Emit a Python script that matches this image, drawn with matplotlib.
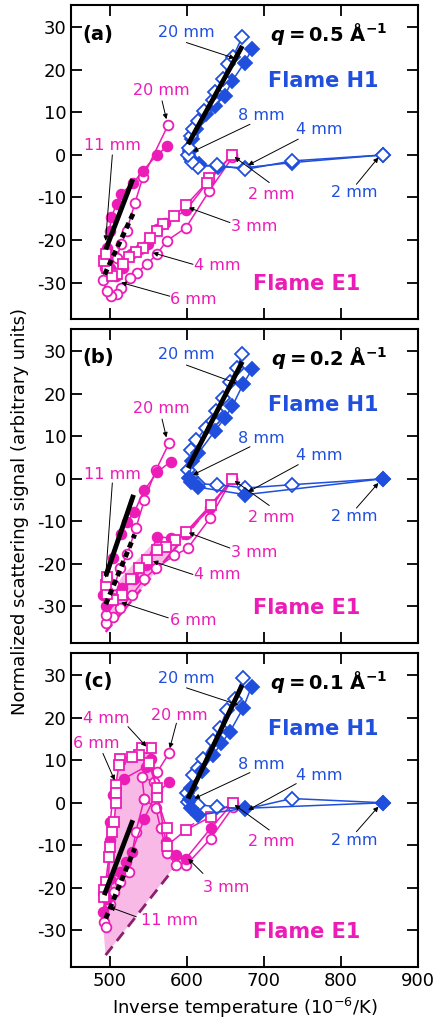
import numpy as np
import matplotlib
matplotlib.use("Agg")
import matplotlib.pyplot as plt

plt.rcParams['font.family'] = ['DejaVu Sans']
plt.rcParams['axes.unicode_minus'] = False
plt.rcParams['mathtext.fontset'] = 'custom'
plt.rcParams['mathtext.rm'] = 'DejaVu Sans'
plt.rcParams['mathtext.bf'] = 'DejaVu Sans:bold'
plt.rcParams['mathtext.it'] = 'DejaVu Sans:bold:italic'

BLUE = '#1f4fdc'
MAG = '#ec1cb6'
PINK = '#f9b9e6'
PURPLE = '#8c1f6e'

## ---- panel (a), q = 0.5 ----
a_h1_open_x = [855, 737, 676, 639, 615, 607, 602, 603, 606, 608, 615, 622, 634, 637, 647, 654, 660, 672]
a_h1_open_y = [0, -1.4, -3.4, -2.4, -2.8, -1.6, 0, 1.7, 4.5, 6, 8, 10.4, 13, 14.7, 17.8, 21.3, 23, 27.8]
a_h1_fill_x = [855, 737, 676, 640, 616, 606, 604, 607, 612, 625, 636, 649, 659, 675, 685]
a_h1_fill_y = [0, -1.8, -3.0, -2.8, -2.2, -1.0, 1.0, 3.7, 6.0, 9.5, 11.5, 13.9, 17.4, 21.7, 25]
a_e1_sq_x = [659, 629, 626, 599, 583, 569, 561, 552, 543, 534, 525, 517, 509, 503, 496, 493, 495]
a_e1_sq_y = [0, -5.5, -6.5, -11.8, -14.4, -16.3, -17.9, -19.5, -21.8, -22.7, -24.0, -25.7, -28, -28.5, -26.5, -25, -23.4]
a_e1_fc_x = [659, 629, 599, 572, 561, 550, 540, 528, 517, 508, 502, 497, 496, 500, 502, 509, 515, 530, 543, 561, 575]
a_e1_fc_y = [0, -6, -13, -16, -17.5, -20.9, -22, -23.2, -26.5, -28.5, -27, -25, -21.8, -17.9, -14.7, -11.6, -9.1, -6.7, -3.8, 0, 2]
a_e1_oc_x = [659, 629, 599, 574, 561, 548, 535, 526, 515, 509, 502, 496, 491, 494, 500, 509, 515, 522, 533, 543, 576]
a_e1_oc_y = [-0.6, -8.5, -17.1, -20.2, -23.4, -25.7, -27.7, -28.9, -31.2, -32.8, -33.2, -32, -29.3, -26.5, -26.5, -24.2, -21, -17.9, -11.2, -5.3, 7.1]

## ---- panel (b), q = 0.2 ----
b_h1_open_x = [855, 737, 676, 639, 615, 605, 601, 606, 612, 625, 634, 638, 647, 656, 665, 672]
b_h1_open_y = [0, -1.4, -2.2, -1.4, -1.2, 0.5, 2.1, 6.8, 9.1, 11.9, 13.5, 15.8, 18.9, 22.8, 26, 29.2]
b_h1_fill_x = [855, 676, 615, 606, 603, 607, 615, 636, 649, 659, 673, 685]
b_h1_fill_y = [0, -3.75, -2.0, -0.8, 0.2, 4.1, 6.0, 11.1, 14.2, 17, 22.2, 25.8]
b_e1_sq_x = [659, 631, 599, 585, 573, 562, 549, 538, 528, 516, 505, 497, 495, 496]
b_e1_sq_y = [0, -6.2, -12.5, -14.5, -16, -16.8, -19.1, -21.1, -23.5, -27.4, -28.5, -27, -25, -23]
b_e1_fc_x = [659, 630, 599, 580, 562, 547, 532, 516, 503, 495, 491, 497, 504, 515, 523, 532, 545, 562, 579]
b_e1_fc_y = [0, -7, -12.9, -14, -13.6, -20.3, -23.5, -25.8, -28, -30, -27.4, -23.5, -18.7, -13, -10.1, -7.8, -2.7, 1.6, 4]
b_e1_oc_x = [659, 630, 601, 584, 560, 545, 529, 514, 504, 495, 495, 499, 506, 514, 523, 534, 545, 560, 577]
b_e1_oc_y = [0, -9.3, -16.4, -18, -21.1, -23.5, -27.4, -30.5, -32.5, -34, -32, -28.9, -25, -21.1, -17.6, -11.7, -5, 2, 8.3]

## ---- panel (c), q = 0.1 ----
c_h1_open_x = [855, 736, 676, 639, 615, 602, 600, 608, 615, 621, 634, 643, 652, 662, 673]
c_h1_open_y = [0, 1.0, -1.5, -0.9, -0.5, 0.2, 2.2, 6.5, 8.1, 10.4, 14.4, 17.5, 21.8, 24.5, 29.3]
c_h1_fill_x = [855, 676, 615, 606, 604, 606, 620, 634, 645, 656, 673, 684]
c_h1_fill_y = [0, -1.3, -2.9, -1.3, 1.0, 3.4, 7.5, 11.2, 14, 16.7, 22.2, 27.3]
c_e1_sq_x = [660, 631, 599, 574, 574, 561, 561, 551, 553, 542, 538, 529, 514, 512, 508, 508, 508, 506, 503, 501, 499, 495, 493, 493]
c_e1_sq_y = [0, -3.3, -6.4, -10.1, -6, 1.4, 3.4, 9.3, 12.8, 12.8, 11.2, 10.8, 10.4, 8.9, 4.2, 2.2, 0, -4.5, -6.8, -10.4, -12.7, -18.6, -20.5, -22.1]
c_e1_fc_x = [660, 631, 599, 586, 573, 561, 553, 547, 519, 504, 501, 501, 497, 491, 501, 514, 521, 529, 545, 560, 577]
c_e1_fc_y = [0, -6, -13.1, -12.3, -9.2, 3, 10.4, 8.5, 5.7, 1.8, -4.5, -8.8, -22.5, -25.6, -17.8, -16.2, -13.9, -11.5, -3.7, 2, 4.9]
c_e1_oc_x = [660, 631, 599, 586, 575, 566, 560, 545, 542, 557, 562, 577]
c_e1_oc_y = [-1, -8.4, -14.7, -14.7, -11.9, -6, -1.3, 1, 6.1, 4.9, 7.3, 11.6]
c_e1_oc2_x = [545, 534, 525, 514, 506, 501, 493, 495]
c_e1_oc2_y = [1, -6.8, -16.2, -18.6, -20.9, -23.7, -28, -29.2]

# linear fits (solid / dotted black for E1, blue for H1)
fit_solid = {'a': ([495, 530], [-22.2, -5.7]), 'b': ([495, 531], [-22.9, -3.8]), 'c': ([493, 530], [-21.7, -4.1])}
fit_dot = {'a': ([493.5, 532], [-28.1, -13.2]), 'b': ([495, 532.5], [-29.5, -13.1]), 'c': ([495, 532.5], [-27.2, -10.7])}
fit_h1 = {'a': ([601.7, 672], [2.5, 25.6]), 'b': ([601.7, 672], [2.5, 27.5]), 'c': ([601.7, 672], [1.0, 27.7])}

# shaded region, lower dashed bound
b_shade_x = [495, 660, 659, 631, 599, 573, 562, 547, 531, 516, 503, 495]
b_shade_y = [-36, 0, 0, -6, -12.5, -15, -14, -17, -20, -23, -27, -30]
c_shade_x = [494.8, 491, 492, 499, 503.5, 508, 508, 512, 529, 542, 553, 561, 566, 572, 578, 582]
c_shade_y = [-35.8, -28, -20, -12.7, -6.8, 0, 4.2, 8.9, 10.8, 12.8, 12.8, 5, 0, -7, -12, -15.5]

# labels: text, text position, arrow start, arrow tip, colour
labels_a = [
    ("20 mm", (599.6, 28.8), (599.6, 26.4), (662, 22.7), BLUE),
    ("8 mm", (697, 9.2), (682, 7.2), (608, 0.8), BLUE),
    ("4 mm", (772, 6), (744.6, 3.7), (679.6, -2.4), BLUE),
    ("2 mm", (817, -8.9), (820, -6.9), (848.5, -0.6), BLUE),
    ("2 mm", (709, -9.3), (707, -6.5), (662, -0.5), MAG),
    ("3 mm", (687, -16.9), (656, -15.9), (602.6, -12.4), MAG),
    ("4 mm", (639, -26.1), (608, -25.7), (556, -23), MAG),
    ("6 mm", (609, -34), (578, -33.2), (515, -30), MAG),
    ("11 mm", (504, 2.1), (503.5, 0), (494.8, -20.2), MAG),
    ("20 mm", (567, 15.2), (568, 12.7), (573.6, 8.4), MAG),
]
labels_b = [
    ("20 mm", (599.6, 29.1), (599.6, 26.7), (664.5, 22.4), BLUE),
    ("8 mm", (697, 9.4), (682, 7.5), (608, 0.9), BLUE),
    ("4 mm", (772, 5.5), (744.6, 3.3), (679.6, -3.1), BLUE),
    ("2 mm", (817, -8.8), (820, -6.9), (848.5, -1), BLUE),
    ("2 mm", (709, -9.2), (707, -6.3), (662, -0.5), MAG),
    ("3 mm", (687, -17.4), (656, -16.3), (602.6, -12.7), MAG),
    ("4 mm", (639, -22.5), (608, -22.5), (556, -19.4), MAG),
    ("6 mm", (609, -33.4), (576, -32.7), (515, -29.1), MAG),
    ("11 mm", (504, 0.9), (503.5, -1), (494.8, -23.3), MAG),
    ("20 mm", (567, 16.4), (568, 14), (573.6, 9.7), MAG),
]
labels_c = [
    ("20 mm", (599.6, 29.3), (599.6, 27), (666.7, 23), BLUE),
    ("8 mm", (697, 8.9), (682, 7.1), (610, 1), BLUE),
    ("4 mm", (772, 6.5), (742, 4.5), (679.6, -1.7), BLUE),
    ("2 mm", (817, -8.8), (820, -6.8), (848.5, -0.9), BLUE),
    ("2 mm", (709, -9.2), (707, -6.4), (662, -0.5), MAG),
    ("3 mm", (651.5, -20), (621, -16.6), (601.7, -13.1), MAG),
    ("11 mm", (578, -27.6), (534.6, -26.8), (500, -24.5), MAG),
    ("4 mm", (495.7, 19.8), (523.8, 17.9), (547.6, 13.2), MAG),
    ("6 mm", (482.7, 14), (491.3, 11.6), (506.5, 5.3), MAG),
    ("20 mm", (591, 20.6), (586.6, 18.7), (578, 12.8), MAG),
]

qvals = ['0.5', '0.2', '0.1']
tags = ['(a)', '(b)', '(c)']

fig = plt.figure(figsize=(4.36, 10.23), dpi=100)
bottoms = [0.688, 0.3715, 0.0547]
axs = [fig.add_axes([0.163, b, 0.796, 0.307]) for b in bottoms]

panels = [
    (a_h1_open_x, a_h1_open_y, a_h1_fill_x, a_h1_fill_y, a_e1_sq_x, a_e1_sq_y,
     a_e1_fc_x, a_e1_fc_y, a_e1_oc_x, a_e1_oc_y, labels_a, 'a'),
    (b_h1_open_x, b_h1_open_y, b_h1_fill_x, b_h1_fill_y, b_e1_sq_x, b_e1_sq_y,
     b_e1_fc_x, b_e1_fc_y, b_e1_oc_x, b_e1_oc_y, labels_b, 'b'),
    (c_h1_open_x, c_h1_open_y, c_h1_fill_x, c_h1_fill_y, c_e1_sq_x, c_e1_sq_y,
     c_e1_fc_x, c_e1_fc_y, c_e1_oc_x, c_e1_oc_y, labels_c, 'c'),
]

for i, (ax, p) in enumerate(zip(axs, panels)):
    hox, hoy, hfx, hfy, sqx, sqy, fcx, fcy, ocx, ocy, labs, key = p

    if key == 'b':
        ax.fill(b_shade_x, b_shade_y, color=PINK, lw=0, zorder=1)
        ax.plot([495, 660], [-36, 0], color=MAG, lw=1.8, ls=(0, (4, 2)), zorder=1.5)
    if key == 'c':
        ax.fill(c_shade_x, c_shade_y, color=PINK, lw=0, zorder=1)
        ax.plot([494.8, 583], [-35.8, -15.5], color=PURPLE, lw=2, ls=(0, (4, 2.5)), zorder=1.5)
        ax.plot([598, 614], [-6.4, -4.2], color=MAG, lw=1, ls=(0, (3, 2)), zorder=1.5)

    mk = dict(lw=1.1, mew=1.3, zorder=3)
    # E1
    ax.plot(ocx, ocy, '-o', color=MAG, mfc='white', ms=7, **mk)
    if key == 'c':
        ax.plot(c_e1_oc2_x, c_e1_oc2_y, '-o', color=MAG, mfc='white', ms=7, **mk)
    ax.plot(fcx, fcy, '-o', color=MAG, mfc=MAG, ms=7, **mk)
    ax.plot(sqx, sqy, '-s', color=MAG, mfc='white', ms=6.5, **mk)
    # H1
    if key == 'a':
        ax.plot(hfx, hfy, '-D', color=BLUE, mfc=BLUE, ms=7, **mk)
        ax.plot(hox, hoy, '-D', color=BLUE, mfc='white', ms=7, **mk)
    else:
        ax.plot(hox, hoy, '-D', color=BLUE, mfc='white', ms=7, **mk)
        ax.plot(hfx, hfy, '-D', color=BLUE, mfc=BLUE, ms=7, **mk)

    # fits
    ax.plot(*fit_solid[key], color='k', lw=3.5, solid_capstyle='butt', zorder=5)
    ax.plot(*fit_dot[key], color='k', lw=3.5, ls=(0, (1.2, 0.9)), zorder=5)
    ax.plot(*fit_h1[key], color='k', lw=3.5, solid_capstyle='butt', zorder=5)

    for txt, tpos, start, tip, col in labs:
        ax.text(tpos[0], tpos[1], txt, color=col, fontsize=11.5, ha='center', va='center', zorder=6)
        ax.annotate('', xy=tip, xytext=start, zorder=6,
                    arrowprops=dict(arrowstyle='-|>', color='k', lw=0.7,
                                    mutation_scale=7, shrinkA=0, shrinkB=0))

    ax.text(485, 28.4, tags[i], fontsize=14, fontweight='bold', ha='center', va='center')
    ax.text(860, 28.4, r'$\mathit{q}\mathbf{=' + qvals[i] + r'\ Å}^{\mathbf{-1}}$',
            fontsize=14, ha='right', va='center')
    ax.text(777, 17.3, 'Flame H1', color=BLUE, fontsize=15, fontweight='bold', ha='center', va='center')
    ax.text(755, -30.3, 'Flame E1', color=MAG, fontsize=15, fontweight='bold', ha='center', va='center')

    ax.set_xlim(450, 900)
    ax.set_ylim(-38.6, 35.2)
    ax.set_xticks([500, 600, 700, 800, 900])
    ax.set_yticks([-30, -20, -10, 0, 10, 20, 30])
    ax.tick_params(direction='in', length=8, width=1.3, top=True, right=True, labelsize=13)
    for s in ax.spines.values():
        s.set_linewidth(1.5)
    if i < 2:
        ax.tick_params(labelbottom=False)

axs[2].set_xlabel('Inverse temperature (10$^{-6}$/K)', fontsize=13)
fig.text(0.046, 0.5, 'Normalized scattering signal (arbitrary units)', rotation=90,
         ha='center', va='center', fontsize=13)

fig.savefig('out.png', dpi=100)
